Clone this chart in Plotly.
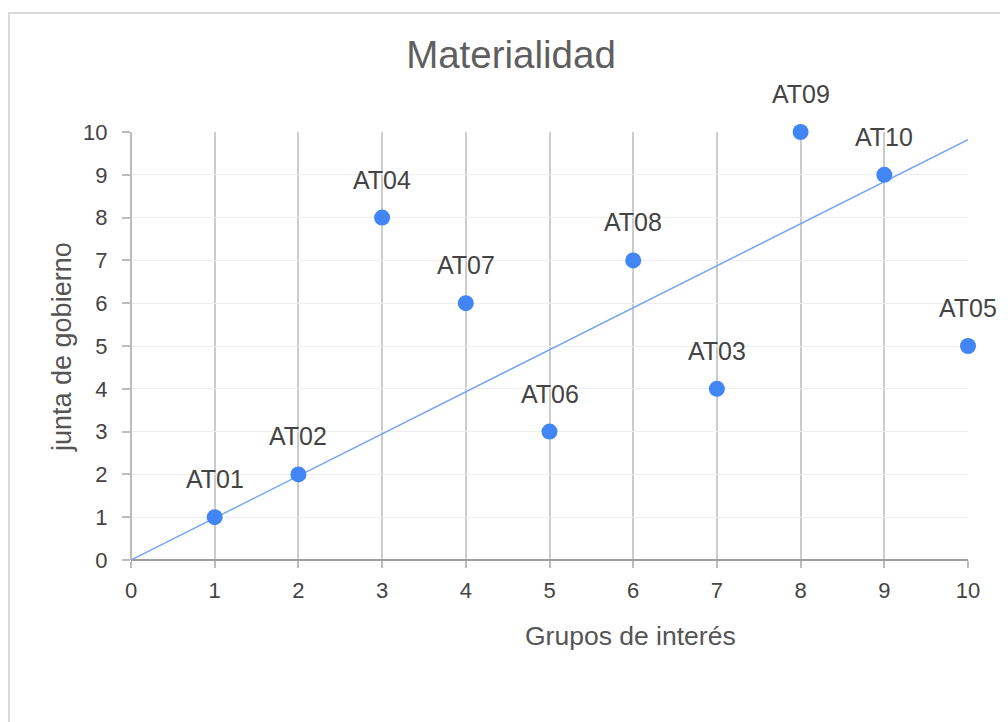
import plotly.graph_objects as go

labels = ["AT01", "AT02", "AT03", "AT04", "AT05", "AT06", "AT07", "AT08", "AT09", "AT10"]
grupos_interes = [1, 2, 7, 3, 10, 5, 4, 6, 8, 9]
junta_gobierno = [1, 2, 4, 8, 5, 3, 6, 7, 10, 9]
trend_x = [0, 10]
trend_y = [0, 9.82]
tick_vals = list(range(0, 11))

FONT = "Liberation Sans, Arial, sans-serif"
OFF = 8  # page body margin
W, H = 1008 - OFF, 722 - OFF
L, R, T, B = 131 - OFF, 968 - OFF, 132 - OFF, 560 - OFF

fig = go.Figure()
fig.add_trace(go.Scatter(x=trend_x, y=trend_y, mode="lines",
                         line=dict(color="#76a3f2", width=1.5),
                         hoverinfo="skip", showlegend=False, cliponaxis=False))
fig.add_trace(go.Scatter(x=grupos_interes, y=junta_gobierno, mode="markers",
                         marker=dict(color="#4285f4", size=16, line=dict(width=0)),
                         showlegend=False, cliponaxis=False))

for lab, xv, yv in zip(labels, grupos_interes, junta_gobierno):
    fig.add_annotation(x=xv, y=yv, text=lab, showarrow=False, xanchor="center",
                       yanchor="middle", yshift=38,
                       font=dict(family=FONT, size=25, color="#444444"))

pw, ph = R - L, B - T
def px(x):
    return (x - OFF - L) / pw
def py(y):
    return (B - (y - OFF)) / ph

fig.add_annotation(xref="paper", yref="paper", x=px(630), y=py(636), text="Grupos de interés",
                   showarrow=False, xanchor="center", yanchor="middle",
                   font=dict(family=FONT, size=26.5, color="#555555"))
fig.add_annotation(xref="paper", yref="paper", x=px(62), y=py(347), text="junta de gobierno",
                   showarrow=False, xanchor="center", yanchor="middle", textangle=-90,
                   font=dict(family=FONT, size=27, color="#555555"))

fig.add_shape(type="rect", xref="paper", yref="paper",
              x0=px(9), y0=py(780), x1=px(1060), y1=py(13),
              line=dict(color="#d9d9d9", width=2), fillcolor="rgba(0,0,0,0)", layer="below")

fig.update_layout(
    width=W, height=H,
    margin=dict(l=L, r=W - R, t=T, b=H - B, pad=0),
    paper_bgcolor="white", plot_bgcolor="white",
    title=dict(text="Materialidad", x=(511 - OFF) / W, xanchor="center", y=1 - (55 - OFF) / H,
               yanchor="middle", yref="container",
               font=dict(family=FONT, size=38.5, color="#5f5f5f")),
    font=dict(family=FONT),
    xaxis=dict(range=[0, 10], tickvals=tick_vals, showgrid=True, gridcolor="#cccccc", gridwidth=1.5,
               zeroline=True, zerolinecolor="#bdbdbd", zerolinewidth=1.5,
               ticks="outside", ticklen=7, tickcolor="#bdbdbd", tickwidth=1.5,
               ticklabelstandoff=4,
               tickfont=dict(family=FONT, size=22, color="#444444"), showline=False, fixedrange=True),
    yaxis=dict(range=[0, 10], tickvals=tick_vals, showgrid=True, gridcolor="#eeeeee", gridwidth=1,
               zeroline=True, zerolinecolor="#9e9e9e", zerolinewidth=2,
               ticks="outside", ticklen=8, tickcolor="#bdbdbd", tickwidth=1.5,
               ticklabelstandoff=10,
               tickfont=dict(family=FONT, size=22, color="#444444"), showline=False, fixedrange=True),
)

fig.write_html("out.html")
